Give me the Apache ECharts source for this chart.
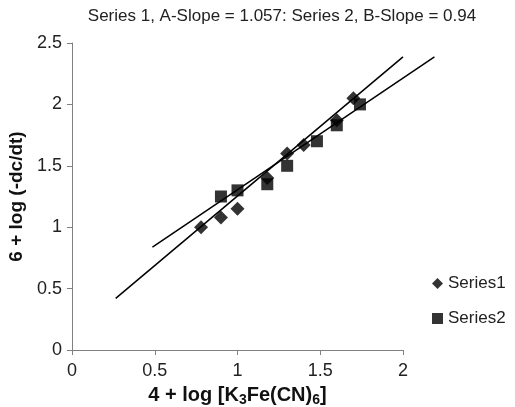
<!DOCTYPE html>
<html>
<head>
<meta charset="utf-8">
<script src="https://cdn.jsdelivr.net/npm/echarts@6/dist/echarts.min.js"></script>
<style>
html, body { margin: 0; padding: 0; background: #fff; }
#chart { width: 515px; height: 407px; }
</style>
</head>
<body>
<div id="chart"></div>
<script>
const series1 = [[0.78, 1.0], [0.90, 1.08], [1.0, 1.15], [1.18, 1.40], [1.30, 1.60], [1.40, 1.67], [1.60, 1.87], [1.70, 2.05]]
const series2 = [[0.90, 1.25], [1.0, 1.30], [1.18, 1.35], [1.30, 1.50], [1.48, 1.70], [1.60, 1.83], [1.74, 2.0]]
const trendA = [[0.264, 0.42], [2.0, 2.387]]
const trendB = [[0.486, 0.838], [2.19, 2.387]]
const titleText = 'Series 1, A-Slope = 1.057: Series 2, B-Slope = 0.94'

const font = 'Liberation Sans, Arial, sans-serif'
const myChart = echarts.init(document.getElementById('chart'))

// second grid is the same scale but wider, so trend line B can run past x = 2
const pxPerUnit = (515 - 72 - 112) / 2
const extMax = 2.2

myChart.setOption({
    animation: false,
    title: {
        text: titleText,
        left: 277,
        textAlign: 'center',
        top: 3,
        textStyle: { fontFamily: font, fontSize: 17, fontWeight: 'normal', color: '#222' }
    },
    legend: {
        orient: 'vertical',
        left: 432,
        top: 275,
        padding: 0,
        itemGap: 18,
        itemWidth: 11,
        itemHeight: 11,
        data: [
            { name: 'Series1', icon: 'diamond' },
            { name: 'Series2', icon: 'rect' }
        ],
        textStyle: { fontFamily: font, fontSize: 17, color: '#222' }
    },
    grid: [
        { left: 72, right: 112, top: 43, bottom: 57, outerBoundsMode: 'none', containLabel: false },
        { left: 72, width: pxPerUnit * extMax, top: 43, bottom: 57, outerBoundsMode: 'none', containLabel: false }
    ],
    xAxis: [{
        type: 'value',
        min: 0, max: 2, interval: 0.5,
        splitLine: { show: false },
        axisLine: { lineStyle: { color: '#808080' } },
        axisTick: { lineStyle: { color: '#808080' }, length: 5 },
        axisLabel: { fontFamily: font, fontSize: 18, color: '#222', margin: 12 },
        name: '{b|4 + log [K}{s|3}{b|Fe(CN)}{s|6}{b|]}',
        nameLocation: 'middle',
        nameGap: 34,
        nameTextStyle: {
            rich: {
                b: { fontFamily: font, fontSize: 20, fontWeight: 'bold', color: '#111' },
                s: { fontFamily: font, fontSize: 14, fontWeight: 'bold', color: '#111', padding: [9, 0, 0, 0] }
            }
        }
    }, {
        type: 'value',
        gridIndex: 1,
        min: 0, max: extMax,
        show: false
    }],
    yAxis: [{
        type: 'value',
        min: 0, max: 2.5, interval: 0.5,
        splitLine: { show: false },
        axisLine: { show: true, lineStyle: { color: '#808080' } },
        axisTick: { show: true, lineStyle: { color: '#808080' }, length: 5 },
        axisLabel: { fontFamily: font, fontSize: 18, color: '#222', margin: 10 },
        name: '6 + log (-dc/dt)',
        nameLocation: 'middle',
        nameGap: 39,
        nameTextStyle: { fontFamily: font, fontSize: 19, fontWeight: 'bold', color: '#111' }
    }, {
        type: 'value',
        gridIndex: 1,
        min: 0, max: 2.5,
        show: false
    }],
    series: [{
        name: 'Series1',
        type: 'scatter',
        symbol: 'diamond',
        symbolSize: 14,
        itemStyle: { color: '#000' },
        data: series1,
        z: 3
    }, {
        name: 'Series2',
        type: 'scatter',
        symbol: 'rect',
        symbolSize: 12,
        itemStyle: { color: '#000' },
        data: series2,
        z: 3
    }, {
        type: 'line',
        symbol: 'none',
        lineStyle: { color: '#000', width: 1.5 },
        data: trendA,
        z: 2
    }, {
        type: 'line',
        symbol: 'none',
        xAxisIndex: 1,
        yAxisIndex: 1,
        lineStyle: { color: '#000', width: 1.5 },
        data: trendB,
        z: 2
    }]
})
</script>
</body>
</html>
